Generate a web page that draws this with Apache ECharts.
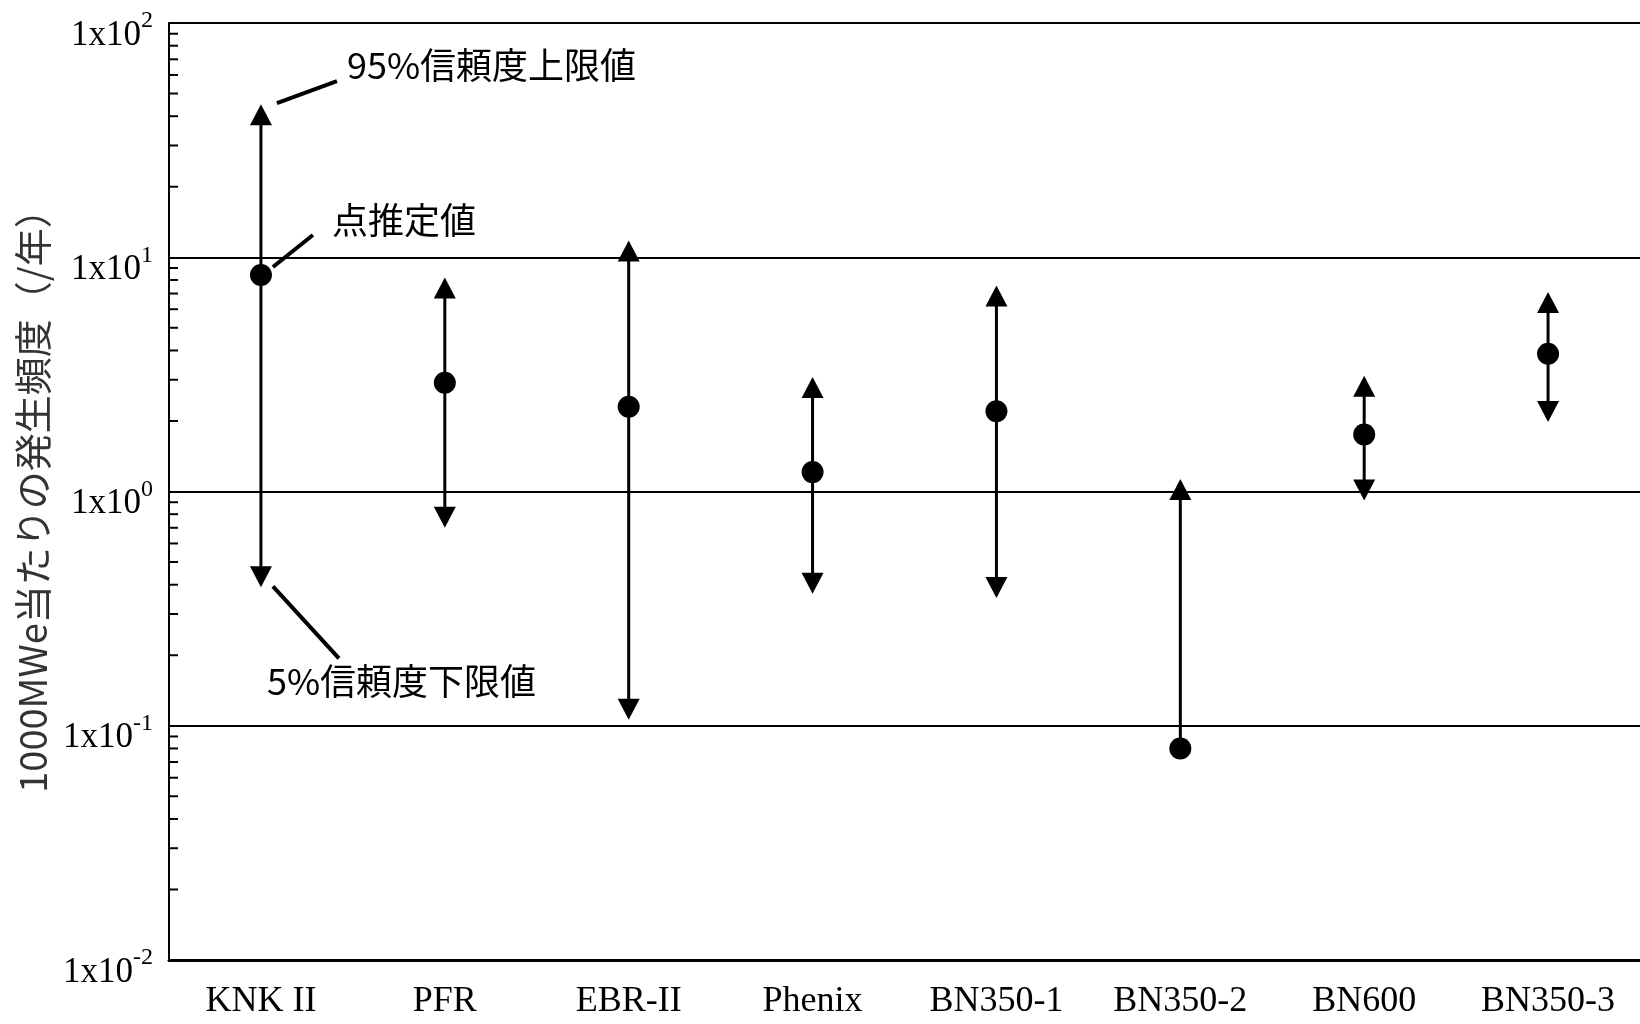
<!DOCTYPE html>
<html>
<head>
<meta charset="utf-8">
<script src="https://cdn.jsdelivr.net/npm/echarts@6/dist/echarts.min.js"></script>
<style>
html, body { margin: 0; padding: 0; background: #fff; }
#chart { width: 1640px; height: 1024px; }
</style>
</head>
<body>
<div id="chart"></div>
<script>
// 各プラントの発生頻度（1000MWe当たり、/年）
var categories = ['KNK II', 'PFR', 'EBR-II', 'Phenix', 'BN350-1', 'BN350-2', 'BN600', 'BN350-3'];
var upper = [45, 8.2, 11.8, 3.08, 7.57, 1.13, 3.12, 7.1];      // 95%信頼度上限値
var point = [8.4, 2.91, 2.3, 1.21, 2.2, 0.08, 1.75, 3.87];      // 点推定値
var lower = [0.39, 0.70, 0.106, 0.366, 0.351, null, 0.916, 1.98]; // 5%信頼度下限値
var yExponents = [-2, -1, 0, 1, 2];
var minorSteps = [2, 3, 4, 5, 6, 7, 8, 9];

var serif = 'Liberation Serif';
var gothic = 'Noto Sans CJK JP';

var chart = echarts.init(document.getElementById('chart'));

var minorTicks = [];
yExponents.slice(0, -1).forEach(function (e) {
  minorSteps.forEach(function (m) {
    minorTicks.push([0, m * Math.pow(10, e)]);
  });
});

function renderArrow(params, api) {
  var idx = params.dataIndex;
  var i = api.value(0);
  var top = api.coord([i, upper[idx]]);
  var mid = api.coord([i, point[idx]]);
  var x = top[0];
  var aw = 11, ah = 21;
  var children = [];
  var yEnd = mid[1];
  if (lower[idx] != null) {
    var bot = api.coord([i, lower[idx]]);
    yEnd = bot[1] - ah + 2;
    children.push({
      type: 'polygon',
      shape: { points: [[x, bot[1]], [x - aw, bot[1] - ah], [x + aw, bot[1] - ah]] },
      style: { fill: '#000' }
    });
  }
  children.push({
    type: 'line',
    shape: { x1: x, y1: top[1] + ah - 2, x2: x, y2: yEnd },
    style: { stroke: '#000', lineWidth: 3 }
  });
  children.push({
    type: 'polygon',
    shape: { points: [[x, top[1]], [x - aw, top[1] + ah], [x + aw, top[1] + ah]] },
    style: { fill: '#000' }
  });
  return { type: 'group', children: children };
}

function renderMinor(params, api) {
  var p = api.coord([0, api.value(1)]);
  var x0 = params.coordSys.x;
  return {
    type: 'line',
    shape: { x1: x0, y1: p[1], x2: x0 + 9, y2: p[1] },
    style: { stroke: '#000', lineWidth: 2 }
  };
}

chart.setOption({
  animation: false,
  backgroundColor: '#fff',
  grid: { left: 169, right: -10, top: 23, bottom: 64 },
  xAxis: {
    type: 'category',
    data: categories,
    axisLine: { lineStyle: { color: '#000', width: 3 } },
    axisTick: { inside: true, length: 12, lineStyle: { color: '#000', width: 2 } },
    axisLabel: { fontFamily: serif, fontSize: 36, color: '#000', margin: 24 },
    splitLine: { show: false }
  },
  yAxis: {
    type: 'log',
    logBase: 10,
    min: 0.01,
    max: 100,
    name: '1000MWe当たりの発生頻度（/年）',
    nameLocation: 'middle',
    nameRotate: 90,
    nameGap: 117,
    nameTextStyle: { fontFamily: gothic, fontSize: 38, color: '#333' },
    axisLine: { show: true, lineStyle: { color: '#000', width: 2 } },
    axisTick: { show: false },
    splitLine: { show: true, lineStyle: { color: '#000', width: 2 } },
    axisLabel: {
      margin: 16,
      padding: [16, 0, 0, 0],
      formatter: function (v) {
        var e = Math.round(Math.log10(v));
        return '{b|1x10}{s|' + e + '}';
      },
      rich: {
        b: { fontFamily: serif, fontSize: 35, color: '#000', verticalAlign: 'bottom', lineHeight: 44 },
        s: { fontFamily: serif, fontSize: 24, color: '#000', verticalAlign: 'top', lineHeight: 44 }
      }
    }
  },
  series: [
    {
      type: 'custom',
      renderItem: renderMinor,
      data: minorTicks,
      silent: true,
      z: 1
    },
    {
      type: 'custom',
      renderItem: renderArrow,
      data: categories.map(function (c, i) { return [i, upper[i], point[i]]; }),
      encode: { x: 0, y: [1, 2] },
      clip: false,
      z: 3
    },
    {
      type: 'scatter',
      data: categories.map(function (c, i) { return [i, point[i]]; }),
      symbol: 'circle',
      symbolSize: 22,
      itemStyle: { color: '#000', opacity: 1 },
      z: 4
    }
  ]
});

// 注記（KNK II の各値を指す）
var pUp = chart.convertToPixel({ gridIndex: 0 }, [0, upper[0]]);
var pMid = chart.convertToPixel({ gridIndex: 0 }, [0, point[0]]);
var pLo = chart.convertToPixel({ gridIndex: 0 }, [0, lower[0]]);
var noteStyle = { fontFamily: gothic, fontSize: 36, fill: '#000' };
function leader(p, dx1, dy1, dx2, dy2) {
  return {
    type: 'line',
    shape: { x1: p[0] + dx1, y1: p[1] + dy1, x2: p[0] + dx2, y2: p[1] + dy2 },
    style: { stroke: '#000', lineWidth: 4 }
  };
}
function note(p, dx, dy, text) {
  return {
    type: 'text',
    x: p[0] + dx,
    y: p[1] + dy,
    style: Object.assign({ text: text, textVerticalAlign: 'middle', verticalAlign: 'middle' }, noteStyle)
  };
}
chart.setOption({
  graphic: [
    leader(pUp, 16, -1, 76, -23),
    note(pUp, 86, -39, '95%信頼度上限値'),
    leader(pMid, 12, -8, 52, -40),
    note(pMid, 71, -55, '点推定値'),
    leader(pLo, 12, -1, 78, 71),
    note(pLo, 6, 94, '5%信頼度下限値')
  ]
});
</script>
</body>
</html>
